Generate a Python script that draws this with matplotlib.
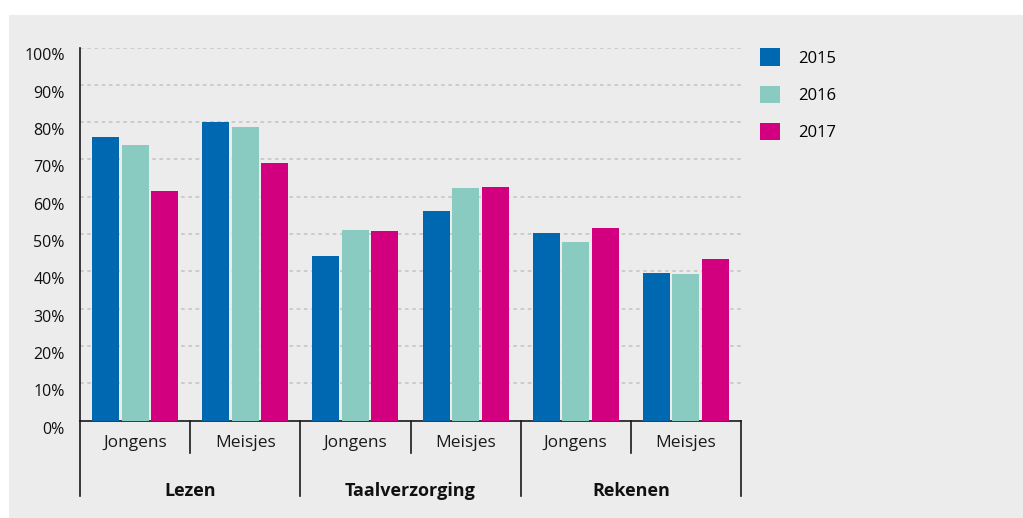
import matplotlib.pyplot as plt
import matplotlib.transforms as mtransforms
from matplotlib.patches import Rectangle
import numpy as np

plt.rcParams['font.family'] = ['Open Sans', 'DejaVu Sans']

# data (percentages)
groups = ['Lezen', 'Taalverzorging', 'Rekenen']
subgroups = ['Jongens', 'Meisjes']
years = ['2015', '2016', '2017']
# order: Lezen J, Lezen M, Taal J, Taal M, Rekenen J, Rekenen M
v2015 = [76.0, 80.0, 44.1, 56.2, 50.3, 39.5]
v2016 = [73.9, 78.7, 51.1, 62.3, 47.9, 39.3]
v2017 = [61.5, 69.0, 50.8, 62.6, 51.6, 43.3]
colors = ['#0067b1', '#89cbc0', '#d2007f']

fig = plt.figure(figsize=(10.23, 5.18), dpi=100, facecolor='white')
# grey panel behind everything
fig.patches.append(Rectangle((9/1023, 0), 1, (518-15)/518, transform=fig.transFigure,
                             facecolor='#ececec', edgecolor='none', zorder=-10))

ax = fig.add_axes([80/1023, (518-420.5)/518, (741-80)/1023, (420.5-47.5)/518])
ax.set_facecolor('none')

x = np.arange(6) + 0.5
width = 0.245
step = 0.268
for i, (vals, c, yr) in enumerate(zip([v2015, v2016, v2017], colors, years)):
    ax.bar(x + (i - 1) * step, vals, width=width, color=c, label=yr, zorder=3)

ax.set_xlim(0, 6)
ax.set_ylim(0, 100)
ax.set_yticks(range(0, 101, 10))
ax.set_yticklabels([f'{v}%' for v in range(0, 101, 10)], fontsize=11.5, color='#111111')
ax.tick_params(axis='y', length=0, pad=11)
ax.set_xticks([])

# shift the y labels a little down, like the original
offset = mtransforms.ScaledTranslation(0, -7/100, fig.dpi_scale_trans)
for lbl in ax.get_yticklabels():
    lbl.set_transform(lbl.get_transform() + offset)

ax.grid(axis='y', color='#c9c9c9', linestyle=(0, (2, 2)), linewidth=1.3, zorder=0)
for s in ['top', 'right']:
    ax.spines[s].set_visible(False)
ax.spines['left'].set_color('#1a1a1a')
ax.spines['bottom'].set_color('#1a1a1a')
ax.spines['left'].set_linewidth(1.2)
ax.spines['bottom'].set_linewidth(1.2)

# category axis below the bars
for xs in [1, 3, 5]:
    ax.plot([xs, xs], [0, -8.6], color='#1a1a1a', lw=1.2, clip_on=False)
for xs in [0, 2, 4, 6]:
    ax.plot([xs, xs], [0, -20.2], color='#1a1a1a', lw=1.2, clip_on=False)
for k in range(6):
    ax.text(x[k], -6.0, subgroups[k % 2], ha='center', va='center', fontsize=12.5,
            color='#1a1a1a', clip_on=False)
for g, name in enumerate(groups):
    ax.text(2 * g + 1, -18.8, name, ha='center', va='center', fontsize=13,
            fontweight='bold', color='#111111', clip_on=False)

ax.legend(loc='upper left', bbox_to_anchor=(760/1023, (518-48.5)/518),
          bbox_transform=fig.transFigure, frameon=False, fontsize=12,
          handlelength=1.2, handleheight=1.2, handletextpad=1.1,
          labelspacing=1.15, borderpad=0, borderaxespad=0)

plt.savefig('out.png', dpi=100)
